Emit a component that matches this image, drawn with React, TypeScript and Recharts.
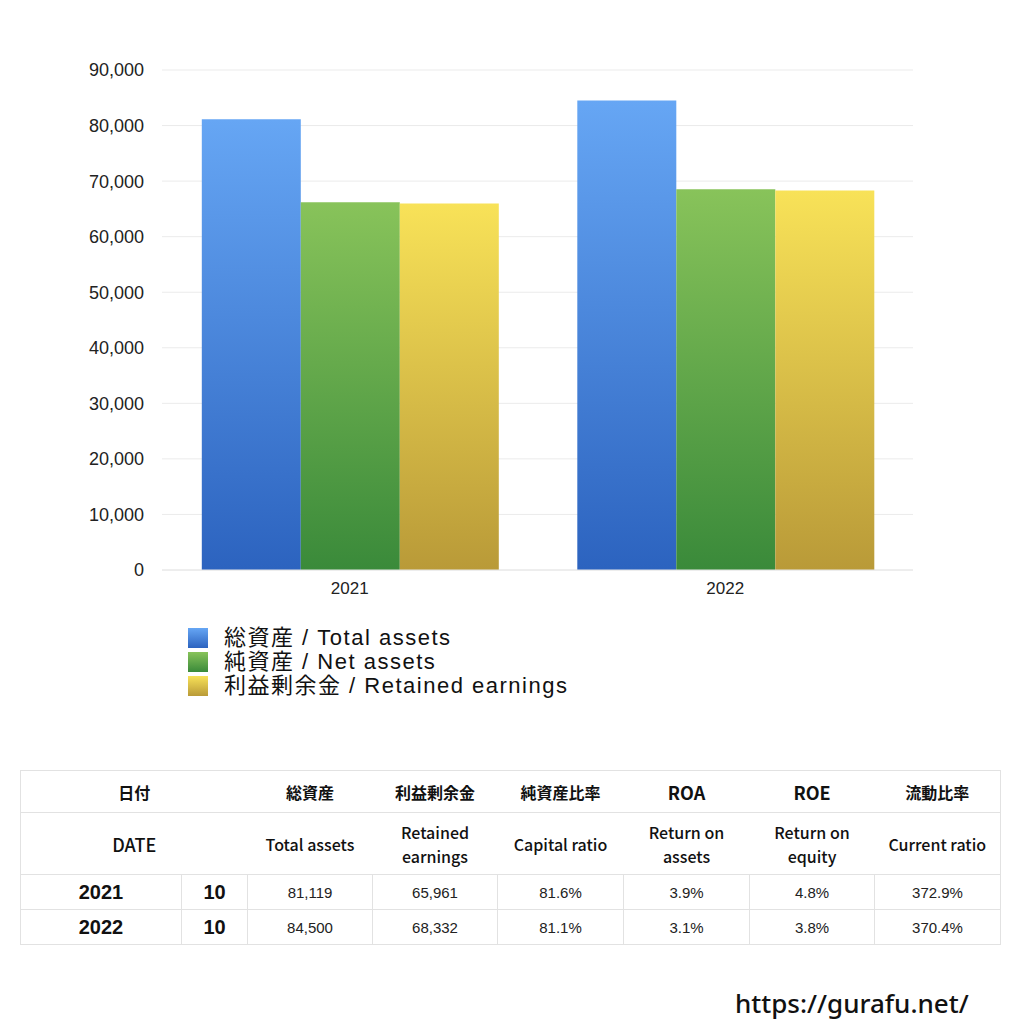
import React from 'react';
import { BarChart, Bar, XAxis, YAxis, CartesianGrid } from 'recharts';

// 年度と各系列の値
const years = ['2021', '2022'];
const totalAssets = [81119, 84500];
const netAssets = [66193, 68530];
const retainedEarnings = [65961, 68332];
const yTicks = [0, 10000, 20000, 30000, 40000, 50000, 60000, 70000, 80000, 90000];

// 表の値
const months = ['10', '10'];
const capitalRatio = ['81.6%', '81.1%'];
const roa = ['3.9%', '3.1%'];
const roe = ['4.8%', '3.8%'];
const currentRatio = ['372.9%', '370.4%'];

const legendItems = [
  { label: '総資産 / Total assets', top: '#66a6f4', bottom: '#2c63bf' },
  { label: '純資産 / Net assets', top: '#88c35a', bottom: '#3a8a3a' },
  { label: '利益剰余金 / Retained earnings', top: '#f8e258', bottom: '#b99a38' },
];

const chartData = years.map((y, i) => ({
  year: y,
  total: totalAssets[i],
  net: netAssets[i],
  retained: retainedEarnings[i],
}));

const FONT = '"Liberation Sans", "Noto Sans CJK JP", sans-serif';
const HEAD_FONT = '"Noto Sans CJK JP", sans-serif';
const border = '1px solid #e2e2e2';

const cols = [161, 66, 125, 125, 126, 126, 125, 126];

const App: React.FC = () => {
  const cell = (extra: React.CSSProperties = {}): React.CSSProperties => ({
    textAlign: 'center',
    padding: 0,
    ...extra,
  });

  return (
    <div style={{ position: 'absolute', left: 0, top: 0, width: 1024, height: 1024, background: '#fff', fontFamily: FONT, color: '#111' }}>
      {/* グラフ */}
      <div style={{ position: 'absolute', left: 0, top: 0 }}>
        <BarChart
          width={1024}
          height={620}
          data={chartData}
          margin={{ top: 70, right: 111, left: 0, bottom: 20 }}
          barCategoryGap="10.6%"
          barGap={0}
        >
          <defs>
            {legendItems.map((it, i) => (
              <linearGradient key={i} id={`g${i}`} x1="0" y1="0" x2="0" y2="1">
                <stop offset="0%" stopColor={it.top} />
                <stop offset="100%" stopColor={it.bottom} />
              </linearGradient>
            ))}
          </defs>
          <CartesianGrid vertical={false} stroke="#ebebeb" />
          <XAxis
            dataKey="year"
            height={30}
            axisLine={{ stroke: '#e6e6e6' }}
            tickLine={false}
            tick={{ fill: '#222', fontSize: 17, fontFamily: FONT }}
            tickMargin={6}
          />
          <YAxis
            width={162}
            domain={[0, 90000]}
            ticks={yTicks}
            axisLine={false}
            tickLine={false}
            tickMargin={12}
            tickFormatter={(v: number) => v.toLocaleString('en-US')}
            tick={{ fill: '#222', fontSize: 18, fontFamily: FONT }}
          />
          <Bar dataKey="total" fill="url(#g0)" isAnimationActive={false} />
          <Bar dataKey="net" fill="url(#g1)" isAnimationActive={false} />
          <Bar dataKey="retained" fill="url(#g2)" isAnimationActive={false} />
        </BarChart>
      </div>

      {/* 凡例 */}
      <div style={{ position: 'absolute', left: 188, top: 626 }}>
        {legendItems.map((it, i) => (
          <div key={i} style={{ display: 'flex', alignItems: 'center', height: 24 }}>
            <div style={{ width: 20, height: 20, background: `linear-gradient(${it.top}, ${it.bottom})`, marginRight: 16 }} />
            <span style={{ fontSize: 22, lineHeight: '24px', letterSpacing: 1.5, color: '#111' }}>{it.label}</span>
          </div>
        ))}
      </div>

      {/* 表 */}
      <table
        style={{
          position: 'absolute',
          left: 20,
          top: 770,
          width: 980,
          borderCollapse: 'collapse',
          tableLayout: 'fixed',
          fontFamily: FONT,
          border,
        }}
      >
        <colgroup>
          {cols.map((w, i) => (
            <col key={i} style={{ width: w }} />
          ))}
        </colgroup>
        <tbody>
          <tr style={{ height: 42, borderBottom: border, fontWeight: 700, fontSize: 16, fontFamily: HEAD_FONT }}>
            <td colSpan={2} style={cell()}>日付</td>
            <td style={cell()}>総資産</td>
            <td style={cell()}>利益剰余金</td>
            <td style={cell()}>純資産比率</td>
            <td style={cell({ fontSize: 18 })}>ROA</td>
            <td style={cell({ fontSize: 18 })}>ROE</td>
            <td style={cell()}>流動比率</td>
          </tr>
          <tr style={{ height: 62, borderBottom: border, fontWeight: 500, fontSize: 16, lineHeight: '24px', color: '#111', fontFamily: HEAD_FONT }}>
            <td colSpan={2} style={cell({ fontSize: 18 })}>DATE</td>
            <td style={cell()}>Total assets</td>
            <td style={cell()}>Retained<br />earnings</td>
            <td style={cell()}>Capital ratio</td>
            <td style={cell()}>Return on<br />assets</td>
            <td style={cell()}>Return on<br />equity</td>
            <td style={cell()}>Current ratio</td>
          </tr>
          {years.map((y, i) => (
            <tr key={y} style={{ height: 35, borderBottom: border, fontSize: 15, color: '#222' }}>
              <td style={cell({ fontWeight: 700, fontSize: 20, color: '#111' })}>{y}</td>
              <td style={cell({ fontWeight: 700, fontSize: 20, color: '#111', borderLeft: border })}>{months[i]}</td>
              <td style={cell({ borderLeft: border })}>{totalAssets[i].toLocaleString('en-US')}</td>
              <td style={cell({ borderLeft: border })}>{retainedEarnings[i].toLocaleString('en-US')}</td>
              <td style={cell({ borderLeft: border })}>{capitalRatio[i]}</td>
              <td style={cell({ borderLeft: border })}>{roa[i]}</td>
              <td style={cell({ borderLeft: border })}>{roe[i]}</td>
              <td style={cell({ borderLeft: border })}>{currentRatio[i]}</td>
            </tr>
          ))}
        </tbody>
      </table>

      {/* 透かし */}
      <div style={{ position: 'absolute', left: 735, top: 985, fontSize: 26, fontWeight: 500, color: '#111', fontFamily: '"Noto Sans", sans-serif' }}>
        https://gurafu.net/
      </div>
    </div>
  );
};

export default App;
